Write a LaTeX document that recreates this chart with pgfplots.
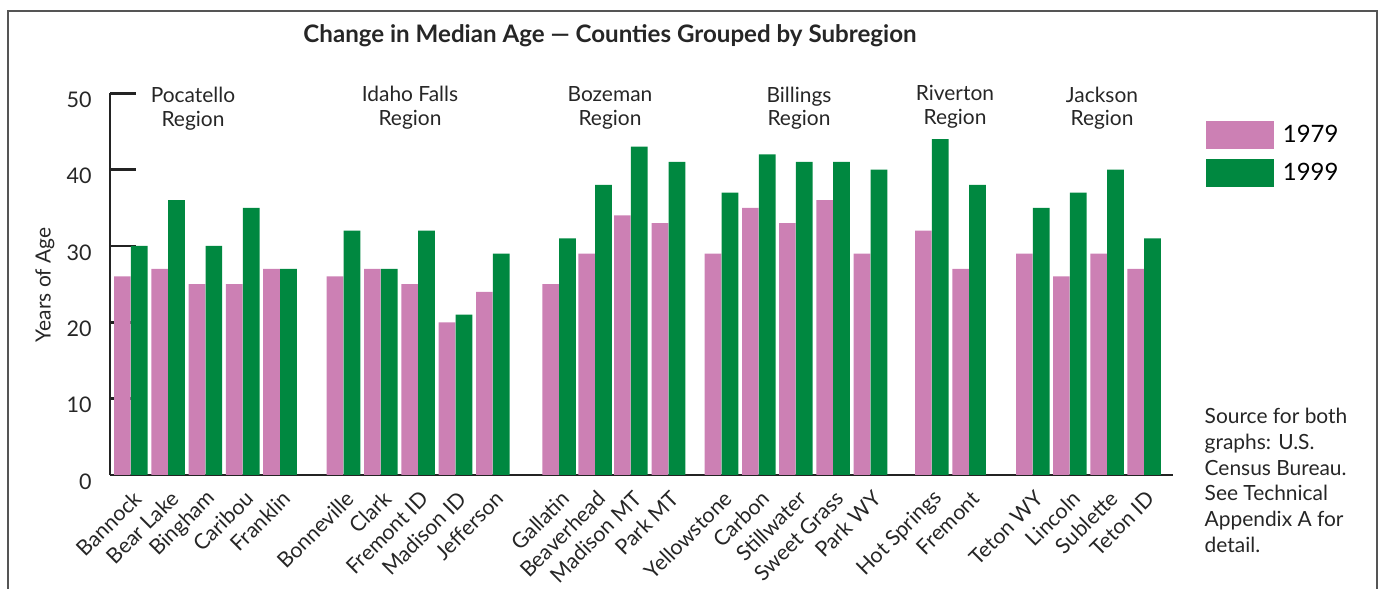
\documentclass[border=0pt]{standalone}
\usepackage{fontspec}
\setmainfont{Lato}
\usepackage{pgfplots}
\usepackage{pgfplotstable}
\pgfplotsset{compat=1.18}
\definecolor{pinkbar}{RGB}{204,128,180}
\definecolor{greenbar}{RGB}{0,136,64}
\definecolor{framegray}{RGB}{85,85,85}
\definecolor{axisdark}{RGB}{35,35,35}

% L = left edge of the pair (1 unit = 1 px of the reference)
\pgfplotstableread[col sep=comma]{
L,a,b,name
114,26,30,Bannock
151.3,27,36,Bear Lake
188.6,25,30,Bingham
225.9,25,35,Caribou
263.2,27,27,Franklin
326.7,26,32,Bonneville
364,27,27,Clark
401.3,25,32,Fremont ID
438.7,20,21,Madison ID
476,24,29,Jefferson
542.3,25,31,Gallatin
578.3,29,38,Beaverhead
614,34,43,Madison MT
651.7,33,41,Park MT
704.7,29,37,Yellowstone
742,35,42,Carbon
779,33,41,Stillwater
816.3,36,41,Sweet Grass
853.7,29,40,Park WY
915,32,44,Hot Springs
952.3,27,38,Fremont
1016,29,35,Teton WY
1053,26,37,Lincoln
1090.3,29,40,Sublette
1127.3,27,31,Teton ID
}\agedata

\begin{document}
\begin{tikzpicture}
\begin{axis}[
  scale only axis, width=531.5bp, height=190.85bp,
  xmin=110, xmax=1173, ymin=0, ymax=50,
  clip=false,
  axis x line*=bottom, axis y line*=left,
  axis line style={-, line width=1.3bp, axisdark},
  ytick={0,10,20,30,40,50},
  tick align=inside, major tick length=13bp,
  ytick style={line width=1.3bp, axisdark},
  xtick style={draw=none},
  xtick={130.8,168.1,205.4,242.7,280,343.5,380.8,418.1,455.5,492.8,559.1,595.1,630.8,668.5,721.5,758.8,795.8,833.1,870.5,931.8,969.1,1032.8,1069.8,1107.1,1144.1},
  xticklabels from table={\agedata}{name},
  xticklabel style={rotate=45, anchor=east, inner sep=0pt, xshift=-4.5bp, yshift=-9.5bp,
    font=\fontsize{10.7}{12}\selectfont, text=black!85},
  /pgf/number format/assume math mode=true,
  yticklabel style={anchor=east, inner sep=0pt, xshift=-9bp, yshift=-3.3bp,
    font=\fontsize{10.8}{12}\selectfont, text=black!85},
  legend style={at={(axis cs:1206,46.4)}, anchor=north west, draw=none, fill=none,
    inner sep=0pt, font=\fontsize{12}{14}\selectfont, row sep=4.7bp},
  legend cell align=left,
]
\addplot[ybar, fill=pinkbar, draw=none, bar width=16.7, bar shift=0pt,
  legend image code/.code={\fill[pinkbar] (0bp,-6.9bp) rectangle (33.8bp,6.9bp); \path (36.3bp,0bp);}]
  table[x expr=\thisrow{L}+8.35, y=a]{\agedata};
\addlegendentry{1979}
\addplot[ybar, fill=greenbar, draw=none, bar width=16.7, bar shift=0pt,
  legend image code/.code={\fill[greenbar] (0bp,-6.9bp) rectangle (33.8bp,6.9bp); \path (36.3bp,0bp);}]
  table[x expr=\thisrow{L}+25.25, y=b]{\agedata};
\addlegendentry{1999}

% frame, title, labels
\draw[framegray, line width=1bp] (axis cs:8,-14.93) -- (axis cs:8,60.78)
  -- (axis cs:1376.7,60.78) -- (axis cs:1376.7,-14.93);
\node[font=\bfseries\fontsize{12.1}{14}\selectfont, text=black!85] at (axis cs:610,57.6)
  {Change in Median Age — Counties Grouped by Subregion};
\node[rotate=90, font=\fontsize{10.5}{12}\selectfont, text=black!85] at (axis cs:45,24.9) {Years of Age};
\begin{scope}[every node/.style={align=center, font=\fontsize{10.5}{12}\selectfont, text=black!85}]
\node at (axis cs:193,47.94) {Pocatello\\Region};
\node at (axis cs:410,48.14) {Idaho Falls\\Region};
\node at (axis cs:610,48.05) {Bozeman\\Region};
\node at (axis cs:799,48.05) {Billings\\Region};
\node at (axis cs:955,48.27) {Riverton\\Region};
\node at (axis cs:1102,48.05) {Jackson\\Region};
\end{scope}
\node[anchor=north west, align=left, inner sep=0pt, font=\fontsize{10.5}{12.9}\selectfont, text=black!85]
  at (axis cs:1204.3,8.78) {Source for both\\graphs: U.S.\\Census Bureau.\\See Technical\\Appendix A for\\detail.};
\coordinate (bbtl) at (axis cs:0,62.22);
\coordinate (bbbr) at (axis cs:1381,-14.93);
\end{axis}
\pgfresetboundingbox
\path[use as bounding box] (bbtl) rectangle (bbbr);
\end{tikzpicture}
\end{document}
